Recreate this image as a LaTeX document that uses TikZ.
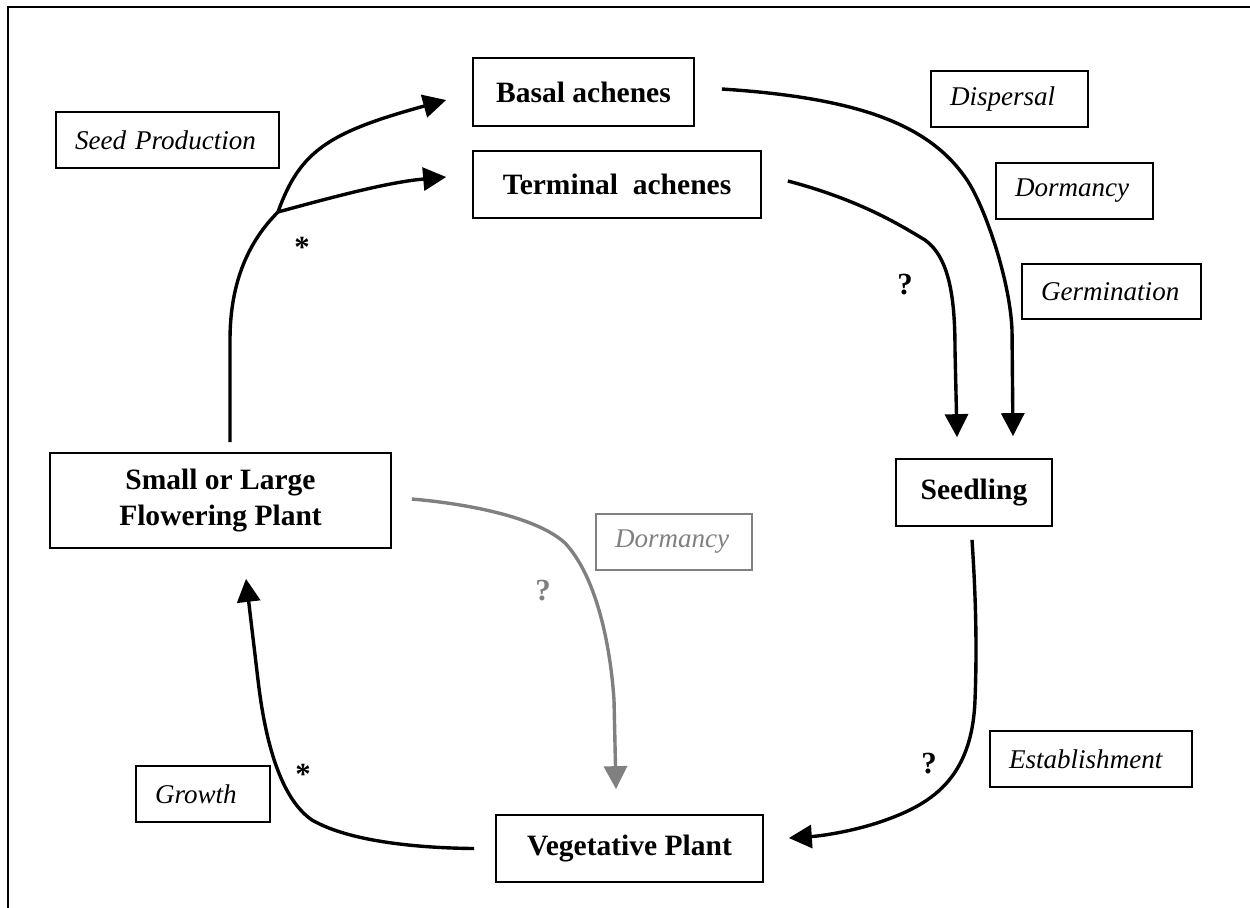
\documentclass[tikz,border=0pt]{standalone}
\usepackage{fontspec}
\setmainfont{Liberation Serif}
\usetikzlibrary{arrows.meta}
\definecolor{gry}{HTML}{808080}
\tikzset{
  bbox/.style={draw, line width=0.035cm, inner sep=0, align=center,
    font=\fontsize{16.8}{20.4}\selectfont\bfseries},
  ibox/.style={draw, line width=0.035cm, inner xsep=0.38cm, inner ysep=0, align=left,
    font=\fontsize{15.4}{18}\selectfont\itshape},
  conn/.style={line width=0.068cm, -{Triangle[length=0.46cm,width=0.46cm]}},
  gconn/.style={conn, draw=gry},
  marklbl/.style={inner sep=0, font=\fontsize{17.5}{20}\selectfont\bfseries},
  frame/.style={line width=0.045cm}
}
\begin{document}
\begin{tikzpicture}[x=0.02cm, y=-0.02cm]
\useasboundingbox (0,0) rectangle (1250,907);
% frame
\draw[frame] (1252,7) -- (8,7) -- (8,909);

% main nodes
\node[bbox, minimum width=4.42cm, minimum height=1.36cm] (basal) at (583.5,92) {Basal achenes};
\node[bbox, minimum width=5.76cm, minimum height=1.34cm] (terminal) at (617,184.5) {Terminal\ \ achenes};
\node[bbox, minimum width=6.82cm, minimum height=1.9cm] (flower) at (220.5,500.5) {Small or Large\\Flowering Plant};
\node[bbox, minimum width=3.12cm, minimum height=1.34cm] (seedling) at (974,492.5) {Seedling};
\node[bbox, minimum width=5.34cm, minimum height=1.34cm] (veg) at (629.5,848.5) {Vegetative Plant};

% process labels
\node[ibox, text width=3.70cm, minimum height=1.12cm] (seedprod) at (167.5,140) {Seed Production};
\node[ibox, text width=2.38cm, minimum height=1.12cm] (dispersal) at (1009.5,99) {Dispersal};
\node[ibox, text width=2.38cm, minimum height=1.12cm] (dorm1) at (1074.5,191) {Dormancy};
\node[ibox, text width=2.82cm, minimum height=1.10cm] (germ) at (1111.5,291.5) {Germination};
\node[ibox, text width=2.36cm, minimum height=1.12cm, draw=gry, text=gry] (dorm2) at (674,542) {Dormancy};
\node[ibox, text width=1.92cm, minimum height=1.12cm] (growth) at (203,794) {Growth};
\node[ibox, text width=3.28cm, minimum height=1.12cm] (estab) at (1091,759) {Establishment};

% marks
\node[marklbl] (star1) at (302,247) {*};
\node[marklbl] (star2) at (303,774) {*};
\node[marklbl] (q1) at (905,285) {?};
\node[marklbl] (q2) at (929,764) {?};
\node[marklbl, text=gry] (q3) at (543,591) {?};

% connectors
\coordinate (j) at (278,212);
\draw[line width=0.068cm] ([xshift=0.19cm,yshift=0.2cm]flower.north) -- (230,340)
   .. controls (230,280) and (250,240) .. (j);
\draw[conn] (j) .. controls (300,150) and (330,132) .. ([xshift=-0.52cm,yshift=-0.16cm]basal.west);
\draw[conn] (j) .. controls (340,195) and (390,182) .. ([xshift=-0.52cm,yshift=0.15cm]terminal.west);

\draw[conn] ([xshift=0.54cm,yshift=0.06cm]basal.east)
   .. controls (860,98) and (930,125) .. (967,180)
   .. controls (985,207) and (1010,280) .. (1012,330)
   -- ([xshift=0.78cm,yshift=0.44cm]seedling.north);
\draw[conn] ([xshift=0.52cm,yshift=0.07cm]terminal.east)
   .. controls (860,200) and (900,225) .. (925,240)
   .. controls (950,258) and (955,300) .. (955,350)
   -- ([xshift=-0.34cm,yshift=0.42cm]seedling.north);

\draw[conn] ([xshift=-0.04cm,yshift=-0.26cm]seedling.south)
   .. controls (976,600) and (977,650) .. (975,700)
   .. controls (972,780) and (930,805) .. (880,822)
   .. controls (850,832) and (820,836) .. ([xshift=0.5cm,yshift=0.21cm]veg.east);

\draw[conn] ([xshift=-0.42cm]veg.west)
   .. controls (420,848) and (350,842) .. (312,820)
   .. controls (280,798) and (265,740) .. (258,680)
   -- ([xshift=0.51cm,yshift=-0.6cm]flower.south);

\draw[gconn] ([xshift=0.4cm,yshift=0.03cm]flower.east)
   .. controls (480,505) and (540,520) .. (565,543)
   .. controls (595,575) and (610,640) .. (614,700)
   -- ([xshift=-0.27cm,yshift=0.5cm]veg.north);
\end{tikzpicture}
\end{document}
